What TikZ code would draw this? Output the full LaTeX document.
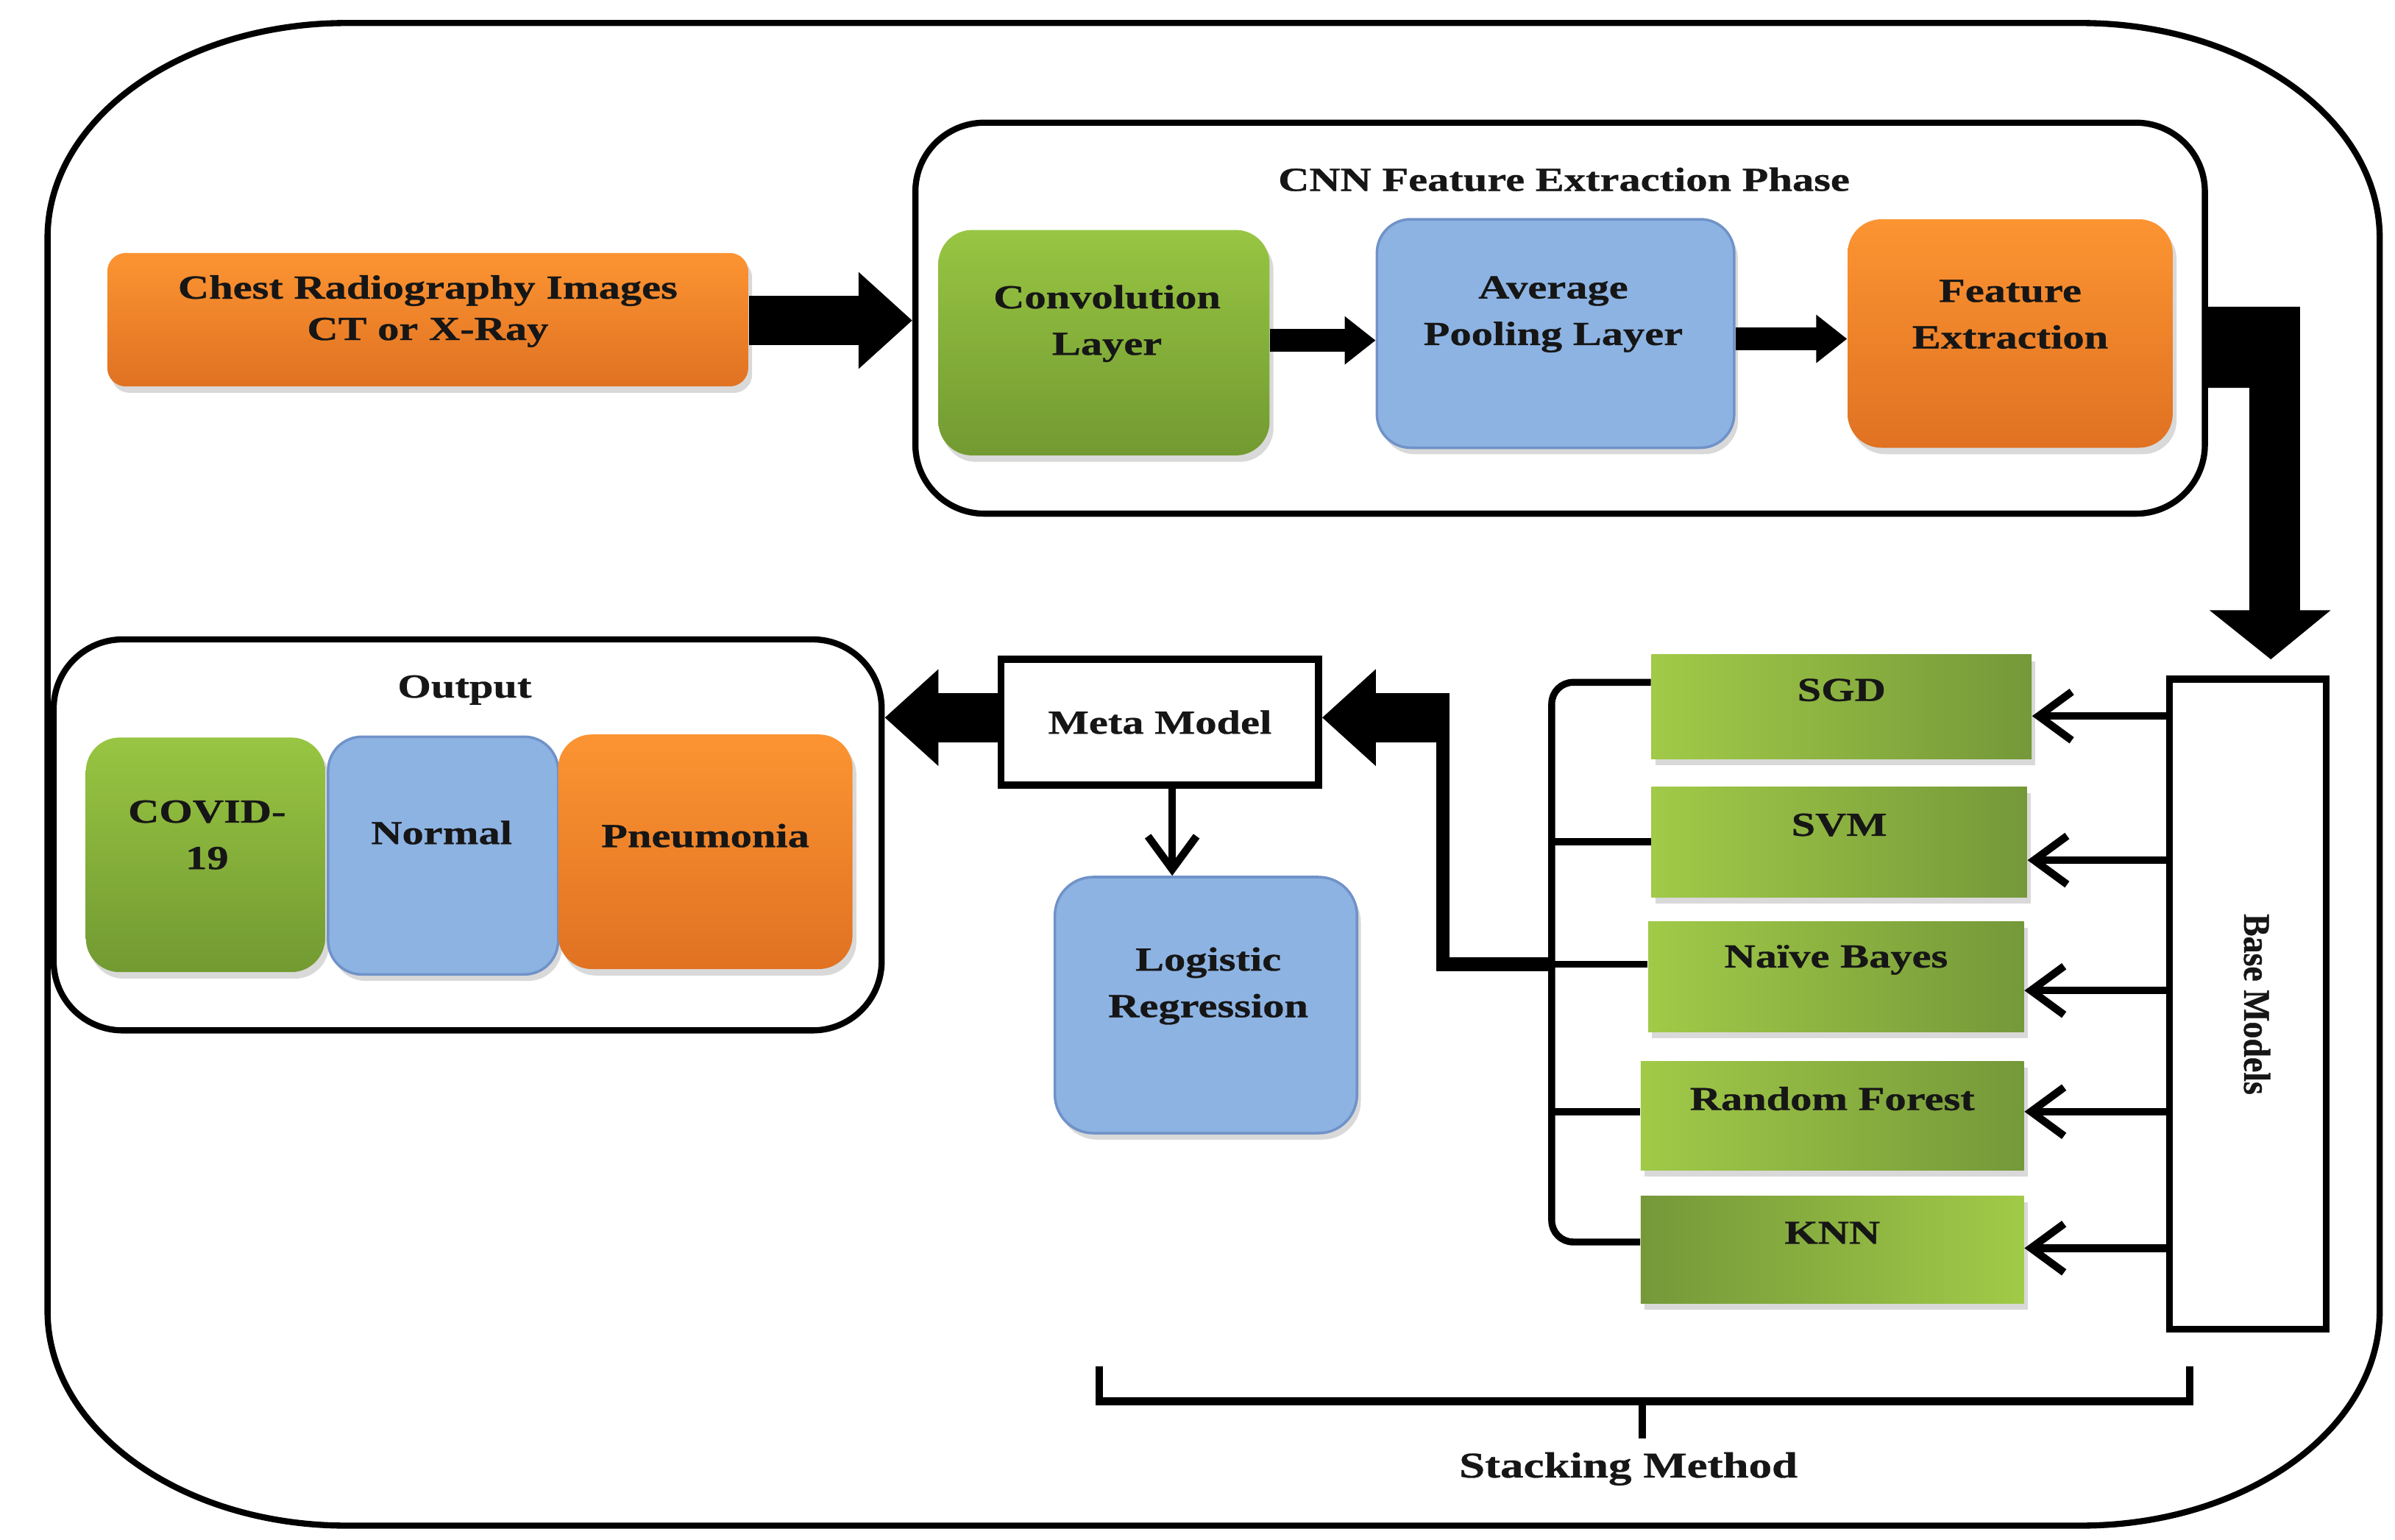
\documentclass[tikz,border=0pt]{standalone}
\usepackage{fontspec}
\setmainfont{Liberation Serif}[FakeStretch=1.28, BoldFeatures={FakeBold=0.7}]
\newfontfamily\rotfont{Liberation Serif}[FakeStretch=0.9, BoldFeatures={FakeBold=0.7}]
\usetikzlibrary{arrows.meta, shadows}

\newlength{\dpx}
\setlength{\dpx}{0.02084cm}

\definecolor{orTop}{RGB}{252,148,50}
\definecolor{orBot}{RGB}{224,114,34}
\definecolor{grTop}{RGB}{152,197,66}
\definecolor{grBot}{RGB}{114,154,50}
\definecolor{blFill}{RGB}{141,179,226}
\definecolor{blDraw}{RGB}{112,146,200}
\definecolor{clLight}{RGB}{161,202,72}
\definecolor{clDark}{RGB}{117,152,57}
\definecolor{txtDark}{RGB}{22,22,22}

\tikzset{
	every node/.style={font=\fontsize{13}{18}\selectfont\bfseries, text=txtDark},
	softshadow/.style={drop shadow={shadow xshift=1.5pt, shadow yshift=-2.5pt, opacity=0.3}},
	orangebox/.style={softshadow, rounded corners=22\dpx, top color=orTop, bottom color=orBot},
	greenbox/.style={softshadow, rounded corners=22\dpx, top color=grTop, bottom color=grBot},
	bluebox/.style={softshadow, rounded corners=22\dpx, fill=blFill, draw=blDraw, line width=1pt},
	clsbox/.style={softshadow, rectangle, left color=clLight, right color=clDark},
	plainbox/.style={draw, line width=4.5\dpx, fill=white},
	groupbox/.style={draw, line width=4\dpx, rounded corners=45\dpx},
	txt/.style={align=center, inner sep=0pt},
	bigarrow/.style={line width=32\dpx, -{Triangle[length=0.73cm, width=1.27cm]}},
	midarrow/.style={line width=15\dpx, -{Triangle[length=0.42cm, width=0.63cm]}},
	thinarrow/.style={line width=5\dpx, -{Straight Barb[length=0.45cm, width=0.66cm]}},
	wire/.style={line width=4.5\dpx}
}

\begin{document}
\begin{tikzpicture}[x=\dpx, y=-\dpx]
	\useasboundingbox (0,0) rectangle (1562,1004);

	% outer frame
	\draw[line width=4\dpx] (226,15) -- (1357,15)
		arc[start angle=90, end angle=0, x radius=195\dpx, y radius=140\dpx] -- (1552,855)
		arc[start angle=0, end angle=-90, x radius=195\dpx, y radius=140\dpx] -- (226,995)
		arc[start angle=-90, end angle=-180, x radius=195\dpx, y radius=140\dpx] -- (31,155)
		arc[start angle=180, end angle=90, x radius=195\dpx, y radius=140\dpx] -- cycle;

	% input images
	\node[orangebox, rounded corners=12\dpx, minimum width=418\dpx, minimum height=87\dpx] (chest) at (279,208.5) {};
	\node[txt, font=\fontsize{13}{16}\selectfont\bfseries] (chestTxt) at (279,203) {Chest Radiography Images\\CT or X-Ray};

	% CNN phase
	\node[groupbox, minimum width=841\dpx, minimum height=255\dpx] (cnn) at (1017.5,207.5) {};
	\node[txt] (cnnTxt) at (1020,117) {CNN Feature Extraction Phase};
	\node[greenbox, minimum width=216\dpx, minimum height=147\dpx] (conv) at (720,223.5) {};
	\node[txt] (convTxt) at (722,211) {Convolution\\Layer};
	\node[bluebox, minimum width=233\dpx, minimum height=149\dpx] (avg) at (1014.5,217.5) {};
	\node[txt] (avgTxt) at (1013,205) {Average\\Pooling Layer};
	\node[orangebox, minimum width=212\dpx, minimum height=149\dpx] (feat) at (1311,217.5) {};
	\node[txt] (featTxt) at (1311,205) {Feature\\Extraction};

	\draw[bigarrow] (chest.east |- 0,209) -- (cnn.west |- 0,209);
	\draw[midarrow] (conv.east |- 0,222) -- (avg.west |- 0,222);
	\draw[midarrow] (avg.east |- 0,221) -- (feat.west |- 0,221);

	% base models
	\node[plainbox, minimum width=102\dpx, minimum height=424\dpx] (base) at (1466,655) {};
	\node[rotate=-90, font=\rotfont\fontsize{14.5}{16}\selectfont\bfseries] (baseTxt) at (1472,655) {Base Models};

	\fill (cnn.east |- 0,200) -- (1500,200) -- (1500,398) -- (1520,398) -- (1481,430)
		-- (1441,398) -- (1467,398) -- (1467,253) -- (cnn.east |- 0,253) -- cycle;

	\foreach \name/\cx/\cy/\w/\h/\lab in {sgd/1201/461/248/68/SGD, svm/1199.5/549/245/72/SVM,
		nb/1197.5/637/245/72/Naïve Bayes, rf/1195/727.5/250/71/Random Forest}
	{
		\node[clsbox, minimum width=\w\dpx, minimum height=\h\dpx] (\name) at (\cx,\cy) {};
		\node[txt] (\name-txt) at (\cx,\cy-11) {\lab};
	}
	\node[clsbox, left color=clDark, right color=clLight, minimum width=250\dpx, minimum height=70\dpx] (knn) at (1195,815) {};
	\node[txt] (knn-txt) at (1195,804) {KNN};

	\foreach \c/\yy in {sgd/467, svm/561, nb/646, rf/725, knn/814}
		\draw[thinarrow] (base.west |- 0,\yy) -- (\c.east |- 0,\yy);

	% stacking bracket
	\draw[wire, rounded corners=14\dpx] (sgd.west |- 0,445) -- (1012,445) -- (1012,810) -- (knn.west |- 0,810);
	\foreach \c/\yy in {svm/549, nb/629, rf/725}
		\draw[wire] (1012,\yy) -- (\c.west |- 0,\yy);

	% meta model
	\node[plainbox, minimum width=207\dpx, minimum height=82\dpx] (meta) at (756.5,471) {Meta Model};
	\coordinate (joinNB) at (1012,629);
	\draw[line width=9\dpx] (joinNB) -| (941,462);
	\draw[bigarrow] (945.5,468) -- (meta.east |- 0,468);

	\node[bluebox, rounded corners=25\dpx, minimum width=197\dpx, minimum height=167\dpx] (logit) at (786.5,655.5) {};
	\node[txt] (logitTxt) at (788,643) {Logistic\\Regression};
	\draw[thinarrow] ([xshift=8\dpx]meta.south) -- ([xshift=8\dpx]meta.south |- logit.north);

	% output
	\node[groupbox, minimum width=540\dpx, minimum height=255\dpx] (output) at (305,544.5) {};
	\node[txt] (outputTxt) at (303,450) {Output};
	\node[greenbox, minimum width=156\dpx, minimum height=153\dpx] (covid) at (134,557.5) {};
	\node[txt] (covidTxt) at (135,544.5) {COVID-\\19};
	\node[bluebox, minimum width=150\dpx, minimum height=155\dpx] (normal) at (289,558) {};
	\node[txt] (normalTxt) at (288,543) {Normal};
	\node[orangebox, minimum width=192\dpx, minimum height=153\dpx] (pneu) at (460,555.5) {};
	\node[txt] (pneuTxt) at (460,545) {Pneumonia};

	\draw[bigarrow] (meta.west |- 0,468) -- (output.east |- 0,468);

	% stacking method
	\draw[line width=5\dpx] (717,891) -- (717,914) -- (1428,914) -- (1428,891);
	\draw[line width=5\dpx] (1071,914) -- (1071,938);
	\node[txt, font=\fontsize{14}{16}\selectfont\bfseries] (stackTxt) at (1062,958) {Stacking Method};
\end{tikzpicture}
\end{document}
